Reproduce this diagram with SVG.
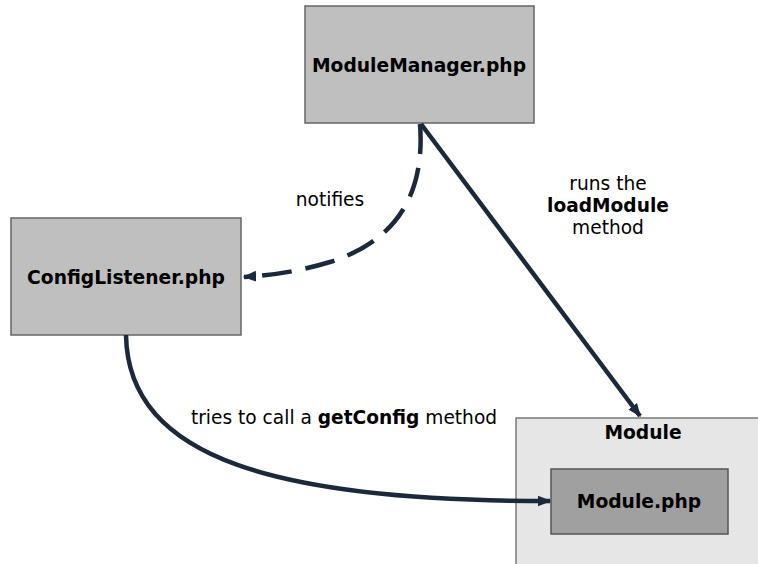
<svg xmlns="http://www.w3.org/2000/svg" width="758" height="564" viewBox="0 0 758 564">
<style>
.box{fill:#bfbfbf;stroke:#666;stroke-width:1.5}
.title{font-family:"DejaVu Sans",sans-serif;font-weight:bold;font-size:18.7px;fill:#000;text-anchor:middle}
.lbl{font-family:"DejaVu Sans",sans-serif;font-size:18.6px;fill:#000;text-anchor:middle}
.edge{fill:none;stroke:#1a2a3c;stroke-width:4.5}
</style>
<defs>
<marker id="arr" viewBox="0 0 10 10" refX="9" refY="5" markerWidth="3" markerHeight="3" orient="auto" markerUnits="strokeWidth">
<path d="M0,1 L10,5 L0,9 z" fill="#1a2a3c"/>
</marker>
</defs>
<rect x="0" y="0" width="758" height="564" fill="#fff"/>
<g id="module-container">
<rect x="516" y="418" width="250" height="160" fill="#e6e6e6" stroke="#7a7a7a" stroke-width="1.5"/>
<text class="title" x="643" y="439">Module</text>
</g>
<g id="module-manager">
<rect class="box" x="305" y="6" width="229" height="117"/>
<text class="title" x="419" y="72">ModuleManager.php</text>
</g>
<g id="config-listener">
<rect class="box" x="11" y="218" width="230" height="117"/>
<text class="title" x="126" y="284">ConfigListener.php</text>
</g>
<g id="module-php">
<rect x="551" y="469" width="177" height="65" fill="#a0a0a0" stroke="#555" stroke-width="1.5"/>
<text class="title" x="639" y="508">Module.php</text>
</g>
<g id="connectors">
<path class="edge" d="M420,124 C425,190 400,240 330,262 C300,271 275,275 244,277" stroke-dasharray="30,14" marker-end="url(#arr)"/>
<path class="edge" d="M421,124 L640,416" marker-end="url(#arr)"/>
<path class="edge" d="M126,335 C128,460 280,501 550,501" marker-end="url(#arr)"/>
<text class="lbl" x="330" y="206">notifies</text>
<text class="lbl" x="608" y="190">runs the</text>
<text class="lbl" x="608" y="212" font-weight="bold">loadModule</text>
<text class="lbl" x="608" y="234">method</text>
<text class="lbl" x="344" y="424">tries to call a <tspan font-weight="bold">getConfig</tspan> method</text>
</g>
</svg>
